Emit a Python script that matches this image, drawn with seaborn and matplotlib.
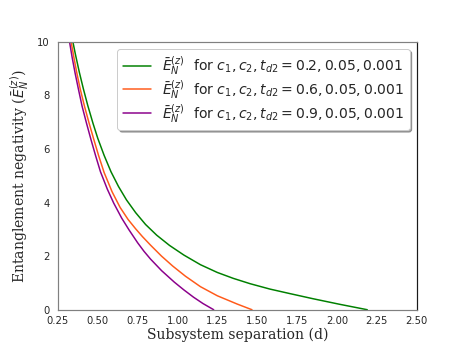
import numpy as np
import pandas as pd
import seaborn as sns
import matplotlib.pyplot as plt

# values
d_green = [0.344, 0.36, 0.385, 0.41, 0.4375, 0.47, 0.50, 0.54, 0.583, 0.63, 0.68, 0.738,
           0.80, 0.87, 0.95, 1.04, 1.144, 1.25, 1.35, 1.456, 1.58, 1.706, 1.85, 2.019, 2.19]
e_green = [10.0, 9.53, 8.85, 8.24, 7.62, 6.96, 6.40, 5.76, 5.15, 4.60, 4.10, 3.62,
           3.18, 2.78, 2.40, 2.04, 1.68, 1.39, 1.17, 0.97, 0.77, 0.60, 0.41, 0.20, 0.0]

d_orange = [0.333, 0.35, 0.369, 0.39, 0.417, 0.445, 0.475, 0.505, 0.54, 0.59, 0.64, 0.69,
            0.7375, 0.78, 0.831, 0.90, 0.97, 1.05, 1.144, 1.25, 1.375, 1.467]
e_orange = [10.0, 9.43, 8.83, 8.24, 7.59, 6.98, 6.36, 5.76, 5.12, 4.40, 3.82, 3.37,
            3.02, 2.73, 2.41, 2.00, 1.63, 1.25, 0.86, 0.52, 0.21, 0.0]

d_purple = [0.323, 0.34, 0.358, 0.38, 0.402, 0.43, 0.458, 0.487, 0.517, 0.56, 0.60, 0.65,
            0.696, 0.75, 0.79, 0.831, 0.90, 0.98, 1.04, 1.10, 1.16, 1.227]
e_purple = [10.0, 9.4, 8.83, 8.2, 7.59, 6.95, 6.34, 5.74, 5.15, 4.50, 3.98, 3.42,
            2.98, 2.50, 2.18, 1.89, 1.46, 1.03, 0.74, 0.47, 0.23, 0.0]

labels = [r'$\bar{E}_N^{(z)}$  for $c_1, c_2, t_{d2} = 0.2, 0.05, 0.001$',
          r'$\bar{E}_N^{(z)}$  for $c_1, c_2, t_{d2} = 0.6, 0.05, 0.001$',
          r'$\bar{E}_N^{(z)}$  for $c_1, c_2, t_{d2} = 0.9, 0.05, 0.001$']
colors = ['green', '#ff5a1a', 'darkmagenta']

df = pd.concat([
    pd.DataFrame({'d': d_green, 'E': e_green, 'lab': labels[0]}),
    pd.DataFrame({'d': d_orange, 'E': e_orange, 'lab': labels[1]}),
    pd.DataFrame({'d': d_purple, 'E': e_purple, 'lab': labels[2]}),
])

sns.set_style('white')
fig, ax = plt.subplots(figsize=(463/72, 348/72), dpi=72)
sns.lineplot(data=df, x='d', y='E', hue='lab', palette=colors, sort=False,
             estimator=None, linewidth=1.5, ax=ax)

ax.set_xlim(0.25, 2.5)
ax.set_ylim(0, 10)
ax.set_xticks(np.arange(0.25, 2.51, 0.25))
ax.set_xticklabels(['%.2f' % t for t in np.arange(0.25, 2.51, 0.25)])
ax.set_yticks([0, 2, 4, 6, 8, 10])
ax.tick_params(axis='x', direction='in', length=4, width=0.8, labelsize=10, pad=6, color='0.2')
ax.tick_params(axis='y', direction='inout', length=6, width=0.8, labelsize=10, pad=5, color='0.2')

for s in ['left', 'bottom', 'top']:
    ax.spines[s].set_color('0.5')
ax.spines['right'].set_color('0.1')
for s in ax.spines.values():
    s.set_linewidth(1.2)

ax.set_xlabel('Subsystem separation (d)', family='DejaVu Serif', fontsize=14, labelpad=2)
ax.set_ylabel(r'Entanglement negativity ($\bar{E}_N^{(z)}$)', family='DejaVu Serif', fontsize=14,
              labelpad=6)

ax.legend(loc='upper right', fontsize=14, shadow=True, frameon=True, fancybox=True,
          handlelength=2.0, borderpad=0.4, labelspacing=0.1)

plt.savefig('out.png', dpi=72)
